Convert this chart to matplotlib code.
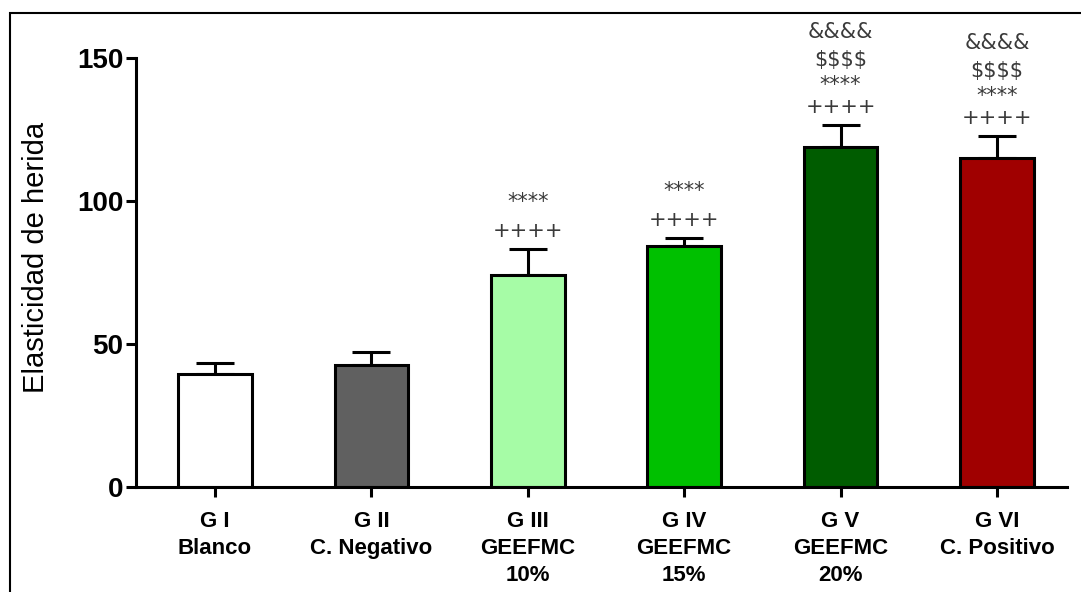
import matplotlib
matplotlib.use('Agg')
import matplotlib.pyplot as plt
from matplotlib.patches import Rectangle

# data
groups = ['G I\nBlanco', 'G II\nC. Negativo', 'G III\nGEEFMC\n10%',
          'G IV\nGEEFMC\n15%', 'G V\nGEEFMC\n20%', 'G VI\nC. Positivo']
means = [39.5, 42.6, 74.3, 84.4, 119.0, 115.0]
sem = [3.9, 4.6, 8.9, 2.8, 7.6, 7.7]
colors = ['#ffffff', '#606060', '#a6fca6', '#00c000', '#005c00', '#a00000']
marks = [[], [], ['++++', '****'], ['++++', '****'],
         ['++++', '****', '$$$$', '&&&&'], ['++++', '****', '$$$$', '&&&&']]

# vertical offsets (pixels above the error cap) for each row of symbols
short_offsets = [18, 47]
long_offsets = [18, 40, 65, 93]

plt.rcParams['font.family'] = ['Liberation Sans', 'DejaVu Sans']

fig = plt.figure(figsize=(10.81, 5.92), dpi=100)
ax = fig.add_axes([136 / 1081, 1 - 487 / 592, (1067 - 136) / 1081, (487 - 58) / 592])

x = list(range(len(groups)))
ax.errorbar(x, means, yerr=[[0] * len(sem), sem], fmt='none', ecolor='black',
            elinewidth=2.2, capsize=14, capthick=2.2, zorder=1)
ax.bar(x, means, width=0.47, color=colors, edgecolor='black', linewidth=2.2, zorder=2)

for xi, m, s, labels in zip(x, means, sem, marks):
    offs = short_offsets if len(labels) == 2 else long_offsets
    for lab, off in zip(labels, offs):
        ax.annotate(lab, (xi, m + s), xytext=(0, off),
                    textcoords='offset pixels', ha='center', va='center',
                    fontsize=15, color='#3a3a3a', family='DejaVu Sans',
                    annotation_clip=False, parse_math=False)

ax.set_xlim(-0.505, 5.448)
ax.set_ylim(0, 150)
ax.set_yticks([0, 50, 100, 150])
ax.set_xticks(x)
ax.set_xticklabels(groups, fontsize=16, fontweight='bold', linespacing=1.38)
ax.tick_params(axis='y', labelsize=20, width=2.2, length=7, pad=2)
ax.tick_params(axis='x', width=2.2, length=7, pad=10)
for lab in ax.get_yticklabels():
    lab.set_fontweight('bold')
ax.set_ylabel('Elasticidad de herida', fontsize=21)
ax.yaxis.set_label_coords(-0.092, 0.534)

for side in ['top', 'right']:
    ax.spines[side].set_visible(False)
for side in ['left', 'bottom']:
    ax.spines[side].set_linewidth(2.2)

# outer frame of the original screenshot (only top and left edges visible)
fig.add_artist(Rectangle((10 / 1081, -0.5), 2, 0.5 + (592 - 13) / 592,
                         transform=fig.transFigure, fill=False,
                         edgecolor='black', linewidth=1.5))

fig.savefig('out.png', dpi=100)
